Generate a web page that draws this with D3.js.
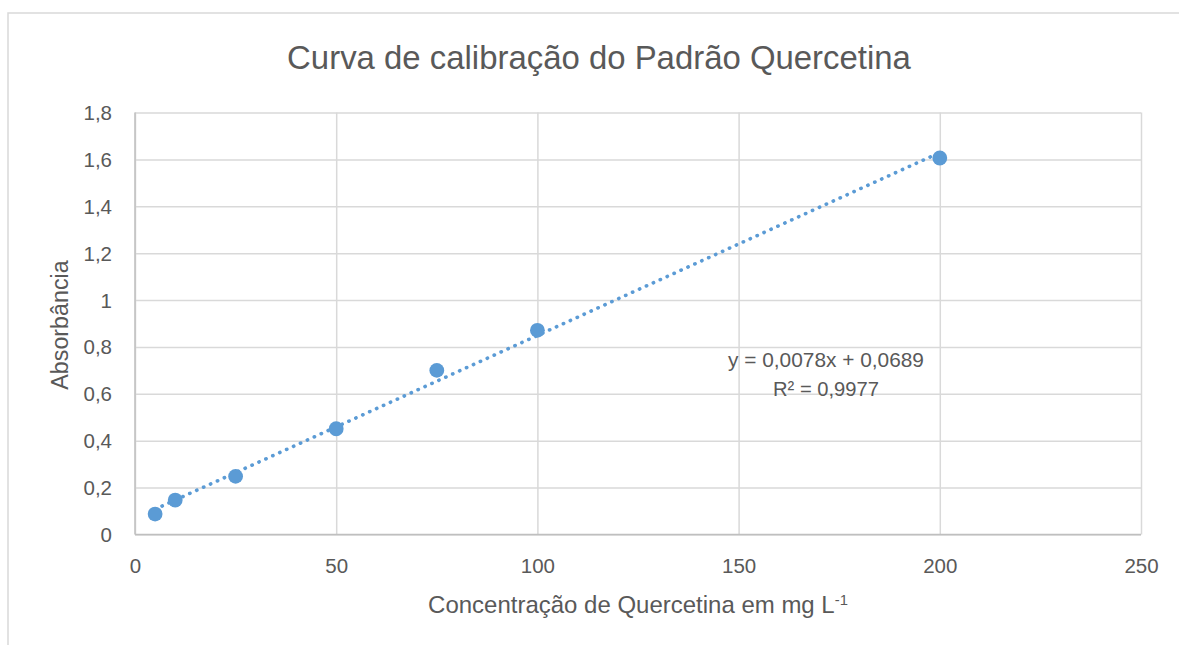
<!DOCTYPE html>
<html><head><meta charset="utf-8">
<script src="https://cdn.jsdelivr.net/npm/d3@7"></script>
<style>body{margin:0;background:#fff}svg{display:block}</style>
</head><body><svg id="c" width="1179" height="645"></svg>
<script>
const concentrations = [5, 10, 25, 50, 75, 100, 200];
const absorbances = [0.087, 0.147, 0.248, 0.451, 0.700, 0.871, 1.606];
const xTicks = [0, 50, 100, 150, 200, 250];
const yTicks = [0, 0.2, 0.4, 0.6, 0.8, 1, 1.2, 1.4, 1.6, 1.8];
const slope = 0.0078, intercept = 0.0689;
const title = "Curva de calibração do Padrão Quercetina";
const xTitle = "Concentração de Quercetina em mg L";
const yTitle = "Absorbância";
const eqText = "y = 0,0078x + 0,0689";
const r2Text = "R² = 0,9977";

const svg = d3.select("#c");
const font = "'Liberation Sans', Arial, sans-serif";
const txt = "#595959", grid = "#D9D9D9", blue = "#5B9BD5";
const fmt = d => String(d).replace(".", ",");

function fit(sel, target) {
  const node = sel.node();
  const fs = parseFloat(sel.style("font-size"));
  const w = node.getBBox().width;
  sel.style("font-size", (fs * target / w) + "px");
}

svg.append("rect").attr("x", 8).attr("y", 13).attr("width", 1200).attr("height", 700)
  .attr("fill", "#fff").attr("stroke", "#D9D9D9").attr("stroke-width", 1.5);

const x = d3.scaleLinear().domain([0, 250]).range([135, 1141]);
const y = d3.scaleLinear().domain([0, 1.8]).range([534.5, 112.5]);

const gy = svg.append("g").attr("transform", "translate(135,0)")
  .call(d3.axisLeft(y).tickValues(yTicks).tickSize(-(1141 - 135)).tickFormat(fmt));
gy.select(".domain").remove();
gy.selectAll(".tick line").attr("stroke", grid).attr("stroke-width", 1.5);
gy.selectAll(".tick text").attr("x", -23).attr("dy", "0.34em").attr("fill", txt).style("font-family", font).style("font-size", "20.5px");

const gx = svg.append("g").attr("transform", "translate(0,534.5)")
  .call(d3.axisBottom(x).tickValues(xTicks).tickSize(-(534.5 - 112.5)));
gx.select(".domain").remove();
gx.selectAll(".tick line").attr("stroke", grid).attr("stroke-width", 1.5);
gx.selectAll(".tick text").attr("y", 38.5).attr("dy", 0).attr("fill", txt).style("font-family", font).style("font-size", "20.5px");

// axis lines
svg.append("line").attr("x1", 135).attr("x2", 1141).attr("y1", 534.5).attr("y2", 534.5).attr("stroke", "#BFBFBF").attr("stroke-width", 1.5);
svg.append("line").attr("x1", 135).attr("x2", 135).attr("y1", 112.5).attr("y2", 534.5).attr("stroke", "#BFBFBF").attr("stroke-width", 1.5);

// trendline
const xmin = d3.min(concentrations), xmax = d3.max(concentrations);
svg.append("line")
  .attr("x1", x(xmin)).attr("y1", y(slope * xmin + intercept))
  .attr("x2", x(xmax)).attr("y2", y(slope * xmax + intercept))
  .attr("stroke", blue).attr("stroke-width", 3.6).attr("stroke-linecap", "round")
  .attr("stroke-dasharray", "0.3 7.3");

// points
svg.append("g").selectAll("circle").data(concentrations).join("circle")
  .attr("cx", d => x(d)).attr("cy", (d, i) => y(absorbances[i])).attr("r", 7.4).attr("fill", blue);

// equation
const eq = svg.append("text").attr("x", 826).attr("y", 367).attr("text-anchor", "middle").attr("fill", txt)
  .style("font-family", font).style("font-size", "17px").text(eqText);
fit(eq, 196);
const r2 = svg.append("text").attr("x", 826).attr("y", 396).attr("text-anchor", "middle").attr("fill", txt)
  .style("font-family", font).style("font-size", "17px").text(r2Text);
fit(r2, 106);

// title
const tt = svg.append("text").attr("x", 599).attr("y", 69).attr("text-anchor", "middle").attr("fill", txt)
  .style("font-family", font).style("font-size", "29px").text(title);
fit(tt, 625);

// x title
const xt = svg.append("text").attr("x", 638).attr("y", 613).attr("text-anchor", "middle").attr("fill", txt)
  .style("font-family", font).style("font-size", "19px");
xt.append("tspan").text(xTitle);
xt.append("tspan").attr("dy", -8).style("font-size", "0.62em").text("-1");
fit(xt, 420);

// y title
const yt = svg.append("text").attr("transform", "translate(68,325) rotate(-90)").attr("text-anchor", "middle").attr("fill", txt)
  .style("font-family", font).style("font-size", "19px").text(yTitle);
fit(yt, 130);
</script></body></html>
